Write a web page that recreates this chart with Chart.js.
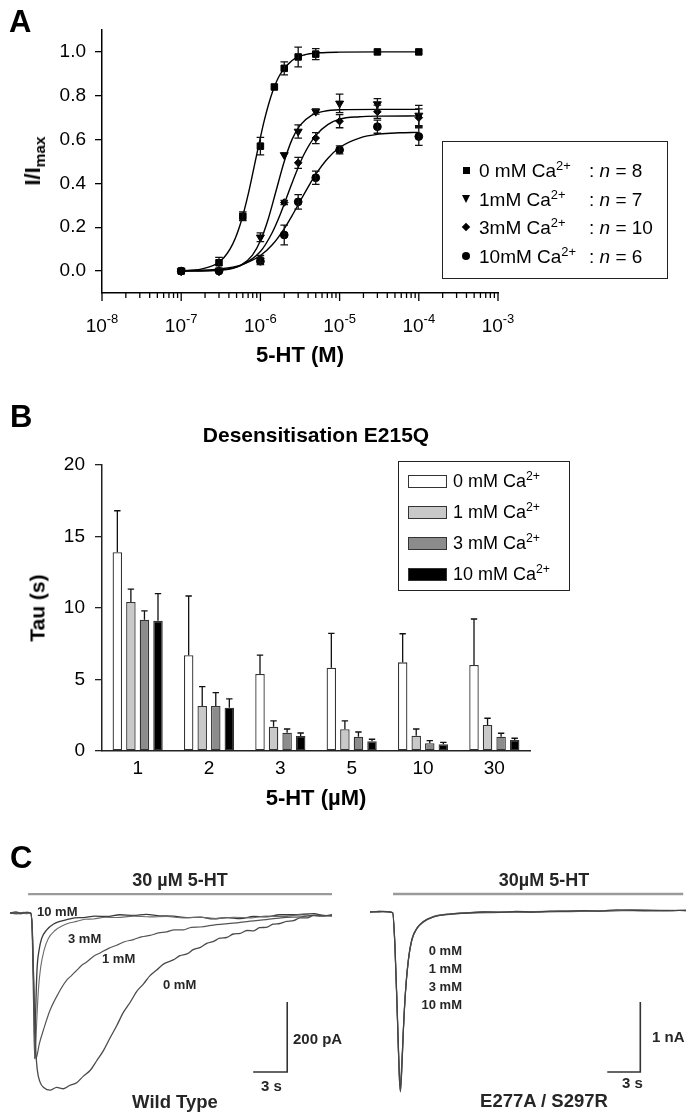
<!DOCTYPE html>
<html>
<head>
<meta charset="utf-8">
<script src="https://cdn.jsdelivr.net/npm/chart.js@4.4.0/dist/chart.umd.min.js"></script>
<style>
body { margin: 0; background: #fff; }
#page { position: relative; width: 700px; height: 1115px; overflow: hidden; font-family: "Liberation Sans", Arial, sans-serif; color: #000; }
#page canvas { position: absolute; }
.txt { position: absolute; white-space: nowrap; line-height: 1; }
.txt sup { font-size: 0.68em; vertical-align: 0; position: relative; top: -0.55em; }
.txt sub { font-size: 0.7em; vertical-align: 0; position: relative; top: 0.32em; }
.mk { position: absolute; }
</style>
</head>
<body>
<div id="page">
  <canvas id="chartA" width="700" height="370" style="left:0px;top:0px"></canvas>
  <canvas id="chartB" width="700" height="430" style="left:0px;top:380px"></canvas>
  <canvas id="chartC1" width="345" height="255" style="left:0px;top:860px"></canvas>
  <canvas id="chartC2" width="350" height="255" style="left:350px;top:860px"></canvas>
</div>
<script>
// ---- panel A: concentration-response ----
const concM = [1e-7, 3e-7, 6e-7, 1e-6, 1.5e-6, 2e-6, 3e-6, 5e-6, 1e-5, 3e-5, 1e-4];
const ca0 = [0.0, 0.038, 0.25, 0.57, 0.84, 0.925, 0.977, 0.99, null, 1.0, 1.0];
const ca0err = [0, 0.025, 0.02, 0.04, 0, 0.03, 0.045, 0.025, null, 0, 0];
const ca1 = [0.0, 0.0, null, 0.154, null, 0.53, 0.637, 0.728, 0.765, 0.762, 0.71];
const ca1err = [0, 0, null, 0.02, null, 0, 0.03, 0.012, 0.042, 0.025, 0.046];
const ca3 = [0.0, 0.0, null, 0.056, null, 0.313, 0.494, 0.607, 0.684, 0.727, 0.70];
const ca3err = [0, 0, null, 0.015, null, 0.01, 0.025, 0.025, 0.03, 0.03, 0.04];
const ca10 = [0.0, 0.0, null, 0.045, null, 0.165, 0.316, 0.426, 0.553, 0.659, 0.614];
const ca10err = [0, 0, null, 0.015, null, 0.045, 0.033, 0.03, 0.018, 0.03, 0.04];

// fitted curves: [log10 conc, I/Imax]
const fit0 = [[-7,0.002],[-6.75,0.009],[-6.5,0.047],[-6.35,0.123],[-6.25,0.218],[-6.15,0.357],[-6.05,0.526],[-5.95,0.689],[-5.85,0.815],[-5.75,0.898],[-5.6,0.961],[-5.45,0.986],[-5.25,0.996],[-5,0.999],[-4.5,1.0],[-4,1.0]];
const fit1 = [[-7,0],[-6.5,0.004],[-6.25,0.026],[-6.1,0.073],[-6,0.138],[-5.9,0.239],[-5.8,0.369],[-5.7,0.499],[-5.6,0.601],[-5.5,0.665],[-5.35,0.712],[-5.2,0.729],[-5,0.736],[-4.5,0.738],[-4,0.738]];
const fit3 = [[-7,0],[-6.5,0.006],[-6.25,0.025],[-6,0.089],[-5.85,0.176],[-5.75,0.258],[-5.65,0.354],[-5.55,0.449],[-5.45,0.532],[-5.3,0.619],[-5.15,0.668],[-5,0.693],[-4.75,0.704],[-4.5,0.707],[-4,0.708]];
const fit10 = [[-7,0.001],[-6.5,0.01],[-6.25,0.027],[-6,0.071],[-5.85,0.12],[-5.7,0.193],[-5.6,0.253],[-5.5,0.318],[-5.4,0.382],[-5.3,0.442],[-5.15,0.514],[-5,0.564],[-4.75,0.607],[-4.5,0.625],[-4.25,0.631],[-4,0.633]];

const yTicksA = [0, 0.2, 0.4, 0.6, 0.8, 1.0];
const decadesA = [-8, -7, -6, -5, -4, -3];
const legendA = ['0 mM', '1mM', '3mM', '10mM'];
const legendN = [8, 7, 10, 6];

// ---- panel B: desensitisation tau ----
const doses = ['1', '2', '3', '5', '10', '30'];
const tau0 = [13.9, 6.7, 5.38, 5.83, 6.2, 6.01];
const tau0err = [2.9, 4.14, 1.33, 2.4, 2.0, 3.22];
const tau1 = [10.42, 3.15, 1.7, 1.52, 1.07, 1.82];
const tau1err = [0.9, 1.35, 0.4, 0.58, 0.47, 0.47];
const tau3 = [9.18, 3.15, 1.28, 1.0, 0.54, 1.0];
const tau3err = [0.62, 0.93, 0.26, 0.33, 0.18, 0.24];
const tau10 = [9.1, 3.03, 1.05, 0.68, 0.47, 0.77];
const tau10err = [1.9, 0.61, 0.21, 0.14, 0.14, 0.12];
const legendB = ['0 mM', '1 mM', '3 mM', '10 mM'];

// ---- panel C: current traces [time s, current] ----
const wt0mM = [[0,0],[0.5,3],[1.0,-2],[1.5,2],[1.82,0],[1.97,-50],[2.12,-240],[2.24,-373],[2.41,-449],[2.65,-483],[3.0,-499],[3.53,-506],[4.12,-498],[4.71,-502],[5.29,-492],[5.88,-485],[6.47,-466],[7.06,-450],[7.65,-422],[8.24,-393],[8.82,-357],[9.41,-322],[10.0,-284],[10.6,-255],[11.18,-224],[11.76,-203],[12.35,-179],[12.94,-163],[13.53,-146],[14.4,-134],[15.0,-122],[15.6,-117],[16.2,-104],[16.8,-98],[17.4,-86],[17.9,-82],[18.5,-72],[19.1,-70],[19.7,-60],[20.3,-58],[20.9,-50],[21.5,-51],[22.0,-42],[22.6,-41],[23.2,-32],[23.8,-30],[24.4,-24],[25.0,-22],[25.6,-14],[26.2,-14],[26.8,-7],[27.4,-9],[28.4,-5]];
const wt1mM = [[0,0],[0.6,-2],[1.2,2],[1.82,0],[1.97,-50],[2.12,-240],[2.29,-416],[2.59,-373],[2.94,-335],[3.53,-278],[4.26,-230],[5.0,-192],[5.44,-178],[5.88,-164],[6.3,-150],[6.76,-140],[7.35,-124],[7.94,-114],[8.7,-101],[9.41,-92],[10.1,-82],[10.88,-76],[11.6,-68],[12.35,-64],[13.1,-57],[13.82,-54],[14.5,-48],[15.29,-48],[16.0,-41],[16.76,-40],[18.2,-33],[19.7,-29],[21.2,-23],[22.6,-19],[24.1,-13],[25.6,-11],[27.0,-6],[28.4,-8]];
const wt3mM = [[0,0],[0.7,2],[1.4,-2],[1.82,0],[1.97,-50],[2.1,-230],[2.21,-416],[2.35,-316],[2.5,-221],[2.71,-154],[3.0,-107],[3.38,-73],[3.97,-50],[4.71,-35],[5.3,-28],[5.88,-24],[6.6,-18],[7.35,-17],[8.4,-12],[9.41,-13],[10.9,-9],[12.35,-11],[13.8,-10],[15.29,-14],[16.8,-12],[18.2,-16],[19.7,-12],[21.2,-14],[22.6,-9],[24.1,-10],[25.6,-5],[27.0,-8],[28.4,-7]];
const wt10mM = [[0,0],[0.8,-2],[1.5,2],[1.82,0],[1.97,-60],[2.08,-250],[2.18,-416],[2.26,-288],[2.38,-164],[2.56,-107],[2.79,-73],[3.24,-48],[3.82,-32],[4.4,-24],[5.0,-19],[5.7,-14],[6.47,-13],[7.5,-9],[8.53,-10],[9.7,-5],[10.9,-7],[12.0,-4],[13.2,-8],[14.4,-9],[15.6,-13],[16.8,-12],[17.9,-17],[19.1,-13],[20.3,-16],[21.5,-10],[22.6,-11],[23.8,-5],[25.0,-5],[26.8,-2],[27.6,-7],[28.4,-8]];

const mut0mM = [[0,0],[0.6,0.005],[1.2,0.01],[1.8,0.0],[2.06,-0.01],[2.27,-0.5],[2.48,-1.45],[2.67,-2.36],[2.76,-2.57],[2.88,-2.26],[3.03,-1.69],[3.21,-1.17],[3.48,-0.69],[3.79,-0.40],[4.24,-0.24],[4.85,-0.14],[5.76,-0.07],[7.27,-0.03],[8.8,-0.014],[10.3,0.0],[11.8,-0.005],[13.3,0.008],[14.8,0],[16.4,0.012],[17.9,0.01],[19.4,0.02],[20.9,0.014],[22.4,0.03],[23.9,0.024],[25.4,0.018],[26.97,0.02],[28.7,0.024]];
const mut1mM = [[0,0],[0.8,0.01],[1.5,0.0],[2.06,-0.01],[2.28,-0.55],[2.49,-1.5],[2.68,-2.35],[2.77,-2.5],[2.9,-2.18],[3.05,-1.62],[3.24,-1.1],[3.52,-0.64],[3.84,-0.37],[4.3,-0.22],[4.9,-0.13],[5.8,-0.06],[7.3,-0.025],[8.8,-0.01],[10.3,0.004],[11.8,0.0],[14.8,0.006],[17.9,0.016],[20.9,0.02],[23.9,0.028],[26.97,0.016],[28.7,0.028]];
const mut3mM = [[0,0.005],[0.7,0.0],[1.4,0.008],[2.06,-0.01],[2.26,-0.45],[2.47,-1.4],[2.66,-2.3],[2.75,-2.45],[2.87,-2.2],[3.02,-1.72],[3.2,-1.2],[3.46,-0.72],[3.77,-0.42],[4.2,-0.25],[4.8,-0.15],[5.7,-0.075],[7.2,-0.035],[8.8,-0.018],[11.8,-0.008],[14.8,0.004],[17.9,0.006],[20.9,0.018],[23.9,0.02],[26.97,0.026],[28.7,0.02]];
const mut10mM = [[0,0],[0.9,0.006],[1.6,0.0],[2.06,-0.01],[2.27,-0.52],[2.48,-1.47],[2.67,-2.4],[2.76,-2.55],[2.89,-2.24],[3.04,-1.66],[3.22,-1.14],[3.5,-0.67],[3.82,-0.39],[4.27,-0.23],[4.87,-0.13],[5.8,-0.065],[7.3,-0.028],[8.8,-0.012],[11.8,0.002],[14.8,-0.004],[17.9,0.012],[20.9,0.01],[23.9,0.03],[26.97,0.022],[28.7,0.02]];

// drug application bars and scale bars, in data units of each trace panel
const wtDrug = [[1.6, 54], [28.4, 54]];
const wtScaleBar = [[21.45, -454], [24.45, -454], [24.45, -254]];
const mutDrug = [[2.09, 0.257], [28.45, 0.257]];
const mutScaleBar = [[21.55, -2.286], [24.55, -2.286], [24.55, -1.286]];

const FONT = '"Liberation Sans", Arial, sans-serif';
Chart.defaults.font.family = FONT;
Chart.defaults.color = '#000';

const page = document.getElementById('page');

function addText(html, x, y, opts) {
  opts = opts || {};
  const d = document.createElement('div');
  d.className = 'txt';
  d.innerHTML = html;
  d.style.left = x + 'px';
  d.style.top = y + 'px';
  d.style.fontSize = (opts.size || 17) + 'px';
  if (opts.bold) d.style.fontWeight = 'bold';
  if (opts.color) d.style.color = opts.color;
  const ax = opts.align === 'left' ? '0' : (opts.align === 'right' ? '-100%' : '-50%');
  d.style.transform = 'translate(' + ax + ',-50%)' + (opts.rotate ? ' rotate(-90deg)' : '');
  page.appendChild(d);
  return d;
}

function addBox(x, y, w, h, css) {
  const d = document.createElement('div');
  d.className = 'mk';
  d.style.left = x + 'px';
  d.style.top = y + 'px';
  d.style.width = w + 'px';
  d.style.height = h + 'px';
  Object.assign(d.style, css || {});
  page.appendChild(d);
  return d;
}

const pts = (arr) => arr.map(p => ({ x: p[0], y: p[1] }));

// error bars drawn through the value scale
const errorBars = {
  id: 'errorBars',
  afterDatasetsDraw(chart) {
    const ctx = chart.ctx, ys = chart.scales.y;
    chart.data.datasets.forEach((ds, i) => {
      if (!ds.errors) return;
      const meta = chart.getDatasetMeta(i);
      ctx.save();
      ctx.strokeStyle = '#111';
      ctx.lineWidth = 1.3;
      meta.data.forEach((el, j) => {
        const e = ds.errors[j];
        if (!e) return;
        const raw = ds.data[j];
        const v = (raw !== null && typeof raw === 'object') ? raw.y : raw;
        const top = ys.getPixelForValue(v + e);
        const bot = ds.errorUpOnly ? el.y : ys.getPixelForValue(v - e);
        const cap = ds.capHalf || 3.5;
        ctx.beginPath();
        ctx.moveTo(el.x, top); ctx.lineTo(el.x, bot);
        ctx.moveTo(el.x - cap, top); ctx.lineTo(el.x + cap, top);
        if (!ds.errorUpOnly) { ctx.moveTo(el.x - cap, bot); ctx.lineTo(el.x + cap, bot); }
        ctx.stroke();
      });
      ctx.restore();
    });
  }
};

// log axis: long ticks at decades, short ticks between, labels 10^n
const logAxis = {
  id: 'logAxis',
  afterDraw(chart) {
    const sx = chart.scales.x, ctx = chart.ctx, y0 = sx.top;
    ctx.save();
    ctx.strokeStyle = '#000';
    ctx.lineWidth = 1.3;
    decadesA.forEach((e, k) => {
      const mults = k < decadesA.length - 1 ? [1, 2, 3, 4, 5, 6, 7, 8, 9] : [1];
      mults.forEach(m => {
        const px = sx.getPixelForValue(m * Math.pow(10, e));
        ctx.beginPath();
        ctx.moveTo(px, y0);
        ctx.lineTo(px, y0 + (m === 1 ? 8 : 5));
        ctx.stroke();
      });
      const px = sx.getPixelForValue(Math.pow(10, e));
      ctx.fillStyle = '#000';
      ctx.font = '19px ' + FONT;
      const w1 = ctx.measureText('10').width;
      ctx.font = '13px ' + FONT;
      const sup = String(e);
      const w2 = ctx.measureText(sup).width;
      const x0 = px - (w1 + w2) / 2;
      ctx.textBaseline = 'alphabetic';
      ctx.textAlign = 'left';
      ctx.font = '19px ' + FONT;
      ctx.fillText('10', x0, y0 + 39);
      ctx.font = '13px ' + FONT;
      ctx.fillText(sup, x0 + w1, y0 + 30);
    });
    ctx.restore();
  }
};

function pointSet(vals, errs, style, radius, rotation) {
  const data = [], e = [];
  concM.forEach((c, i) => {
    if (vals[i] === null) return;
    data.push({ x: c, y: vals[i] });
    e.push(errs[i]);
  });
  return {
    data: data, errors: e, showLine: false,
    pointStyle: style, pointRadius: radius, pointRotation: rotation || 0,
    pointBackgroundColor: '#000', pointBorderColor: '#000', pointBorderWidth: 1,
    capHalf: 3.8
  };
}

function fitSet(arr) {
  return {
    data: arr.map(p => ({ x: Math.pow(10, p[0]), y: p[1] })),
    borderColor: '#000', borderWidth: 1.4, pointRadius: 0,
    cubicInterpolationMode: 'monotone', fill: false
  };
}

new Chart(document.getElementById('chartA'), {
  type: 'line',
  data: {
    datasets: [
      fitSet(fit0), fitSet(fit1), fitSet(fit3), fitSet(fit10),
      pointSet(ca0, ca0err, 'rect', 4.6),
      pointSet(ca1, ca1err, 'triangle', 4.6, 180),
      pointSet(ca3, ca3err, 'rectRot', 3.8),
      pointSet(ca10, ca10err, 'circle', 3.9)
    ]
  },
  options: {
    responsive: false,
    animation: false,
    layout: { padding: { left: 0, right: 202, top: 30, bottom: 0 } },
    plugins: { legend: { display: false }, tooltip: { enabled: false } },
    scales: {
      x: {
        type: 'logarithmic', min: 1e-8, max: 1e-3,
        grid: { display: false },
        border: { display: true, color: '#000', width: 1.5 },
        ticks: { display: false },
        afterFit(s) { s.height = 77; }
      },
      y: {
        min: -0.1, max: 1.1,
        afterBuildTicks(s) { s.ticks = yTicksA.map(v => ({ value: v })); },
        ticks: { font: { size: 19 }, color: '#000', padding: 9, callback: v => Number(v).toFixed(1) },
        grid: { drawOnChartArea: false, color: '#000', lineWidth: 1.3, tickLength: 7 },
        border: { display: true, color: '#000', width: 1.5 },
        afterFit(s) { s.width = 102; }
      }
    }
  },
  plugins: [errorBars, logAxis]
});

function barSet(label, vals, errs, color) {
  return {
    label: label, data: vals, errors: errs, errorUpOnly: true, capHalf: 3.2,
    backgroundColor: color, borderColor: '#333', borderWidth: 1.3, borderSkipped: false
  };
}

new Chart(document.getElementById('chartB'), {
  type: 'bar',
  data: {
    labels: doses,
    datasets: [
      barSet(legendB[0], tau0, tau0err, '#ffffff'),
      barSet(legendB[1], tau1, tau1err, '#c9c9c9'),
      barSet(legendB[2], tau3, tau3err, '#8c8c8c'),
      barSet(legendB[3], tau10, tau10err, '#000000')
    ]
  },
  options: {
    responsive: false,
    animation: false,
    layout: { padding: { left: 0, right: 170, top: 85, bottom: 0 } },
    datasets: { bar: { categoryPercentage: 0.76, barPercentage: 0.7 } },
    plugins: { legend: { display: false }, tooltip: { enabled: false } },
    scales: {
      x: {
        grid: { display: false, drawTicks: false },
        border: { display: true, color: '#222', width: 1.5 },
        ticks: { font: { size: 19 }, color: '#000', padding: 6 },
        afterFit(s) { s.height = 59; }
      },
      y: {
        min: 0, max: 20,
        ticks: { stepSize: 5, font: { size: 19 }, color: '#000', padding: 10 },
        grid: { drawOnChartArea: false, color: '#222', lineWidth: 1.3, tickLength: 7 },
        border: { display: true, color: '#222', width: 1.5 },
        afterFit(s) { s.width = 102; }
      }
    }
  },
  plugins: [errorBars]
});

function traceSet(arr, color, width) {
  return {
    data: pts(arr), borderColor: color, borderWidth: width, pointRadius: 0,
    cubicInterpolationMode: 'monotone', fill: false
  };
}
function plainSet(arr, color, width) {
  return { data: pts(arr), borderColor: color, borderWidth: width, pointRadius: 0, fill: false };
}

function traceChart(id, sets, xmax, ymin, ymax, padL, padR) {
  return new Chart(document.getElementById(id), {
    type: 'line',
    data: { datasets: sets },
    options: {
      responsive: false,
      animation: false,
      layout: { padding: { left: padL, right: padR, top: 0, bottom: 0 } },
      plugins: { legend: { display: false }, tooltip: { enabled: false } },
      scales: {
        x: { type: 'linear', display: false, min: 0, max: xmax },
        y: { type: 'linear', display: false, min: ymin, max: ymax }
      }
    }
  });
}

traceChart('chartC1', [
  plainSet(wtDrug, '#9a9a9a', 2.4),
  traceSet(wt0mM, '#4a4a4a', 1.3),
  traceSet(wt1mM, '#555', 1.2),
  traceSet(wt3mM, '#6a6a6a', 1.1),
  traceSet(wt10mM, '#3a3a3a', 1.3),
  plainSet(wtScaleBar, '#333', 1.6)
], 28.4, -577, 151.4, 10, 13);

traceChart('chartC2', [
  plainSet(mutDrug, '#9a9a9a', 2.4),
  traceSet(mut0mM, '#444', 1.3),
  traceSet(mut1mM, '#777', 1.1),
  traceSet(mut3mM, '#555', 1.1),
  traceSet(mut10mM, '#666', 1.1),
  plainSet(mutScaleBar, '#333', 1.6)
], 28.7, -2.9, 0.743, 20, 14);

// ---- text and legends ----
addText('A', 9, 21, { size: 31, bold: true, align: 'left' });
addText('B', 10, 416, { size: 31, bold: true, align: 'left' });
addText('C', 10, 857, { size: 31, bold: true, align: 'left' });

addText('I/I<sub>max</sub>', 33, 161, { size: 22, bold: true, rotate: true });
addText('5-HT (M)', 300, 355, { size: 22, bold: true });

// legend A
addBox(442, 141, 226, 138, { border: '1.5px solid #222', boxSizing: 'border-box' });
const rowA = [170, 199, 227, 256];
addBox(462.5, rowA[0] - 3.5, 7, 7, { background: '#000' });
addBox(461.5, rowA[1] - 4, 0, 0, { borderLeft: '4.5px solid transparent', borderRight: '4.5px solid transparent', borderTop: '8px solid #000' });
addBox(463, rowA[2] - 3, 6, 6, { background: '#000', transform: 'rotate(45deg)' });
addBox(462, rowA[3] - 4, 8, 8, { background: '#000', borderRadius: '50%' });
legendA.forEach((lab, i) => {
  addText(lab + ' Ca<sup>2+</sup>', 479, rowA[i], { size: 19, align: 'left' });
  addText(': <i>n</i> = ' + legendN[i], 589, rowA[i], { size: 19, align: 'left' });
});

addText('Desensitisation E215Q', 316, 434, { size: 21, bold: true });
addText('Tau (s)', 37, 608, { size: 21, bold: true, rotate: true });
addText('5-HT (µM)', 316, 798, { size: 22, bold: true });

// legend B
addBox(398, 461, 172, 130, { border: '1.5px solid #222', boxSizing: 'border-box' });
const rowB = [481, 512, 543, 574];
const swB = ['#ffffff', '#c9c9c9', '#8c8c8c', '#000000'];
legendB.forEach((lab, i) => {
  addBox(408, rowB[i] - 6.5, 39, 13, { background: swB[i], border: '1px solid #333', boxSizing: 'border-box' });
  addText(lab + ' Ca<sup>2+</sup>', 453, rowB[i], { size: 18, align: 'left' });
});

// panel C labels
const grey = '#262626';
addText('30 µM 5-HT', 180, 880, { size: 18, bold: true, color: grey });
addText('10 mM', 37, 911, { size: 13, bold: true, align: 'left', color: grey });
addText('3 mM', 68, 938, { size: 13, bold: true, align: 'left', color: grey });
addText('1 mM', 102, 958, { size: 13, bold: true, align: 'left', color: grey });
addText('0 mM', 163, 984, { size: 13, bold: true, align: 'left', color: grey });
addText('200 pA', 293, 1038, { size: 15, bold: true, align: 'left', color: grey });
addText('3 s', 261, 1085, { size: 15, bold: true, align: 'left', color: grey });
addText('Wild Type', 175, 1102, { size: 18.5, bold: true, color: grey });

addText('30µM 5-HT', 544, 880, { size: 18, bold: true, color: grey });
['0 mM', '1 mM', '3 mM', '10 mM'].forEach((lab, i) => {
  addText(lab, 462, 950 + i * 18, { size: 13, bold: true, align: 'right', color: grey });
});
addText('1 nA', 652, 1036, { size: 15, bold: true, align: 'left', color: grey });
addText('3 s', 622, 1082, { size: 15, bold: true, align: 'left', color: grey });
addText('E277A / S297R', 544, 1101, { size: 18.5, bold: true, color: grey });
</script>
</body>
</html>
